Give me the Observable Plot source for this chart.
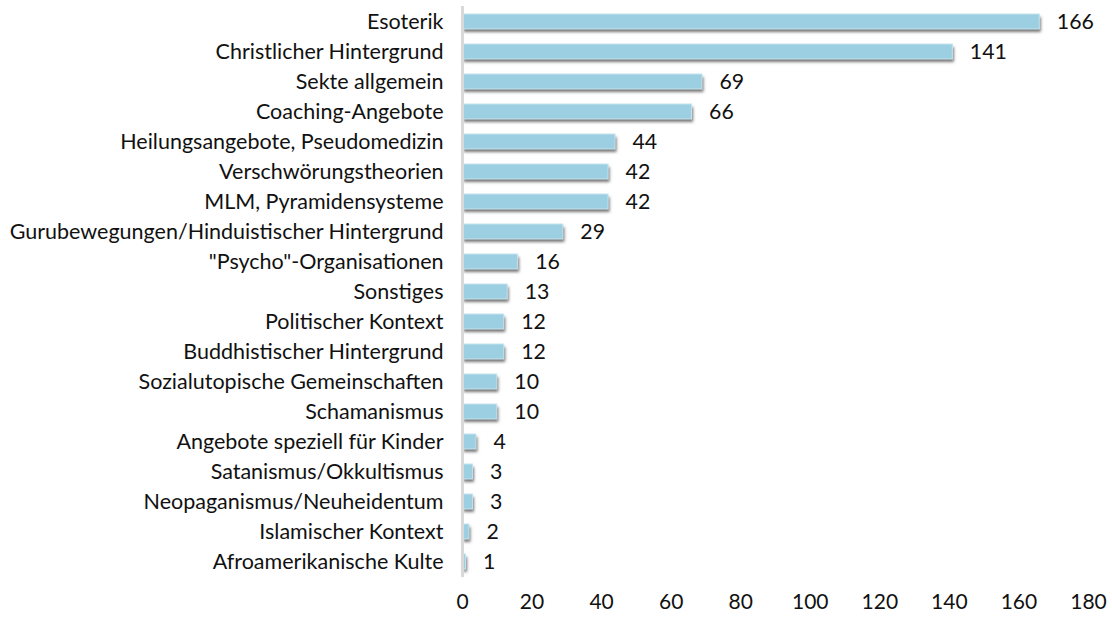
<!DOCTYPE html>
<html><head><meta charset="utf-8">
<script src="https://cdn.jsdelivr.net/npm/d3@7"></script>
<script src="https://cdn.jsdelivr.net/npm/@observablehq/plot@0.6"></script>
<style>
body{margin:0;background:#fff;font-family:Lato,sans-serif;}
</style></head><body><div id="chart"></div>
<script>
const categories = ["Esoterik","Christlicher Hintergrund","Sekte allgemein","Coaching-Angebote","Heilungsangebote, Pseudomedizin","Verschwörungstheorien","MLM, Pyramidensysteme","Gurubewegungen/Hinduistischer Hintergrund","\"Psycho\"-Organisationen","Sonstiges","Politischer Kontext","Buddhistischer Hintergrund","Sozialutopische Gemeinschaften","Schamanismus","Angebote speziell für Kinder","Satanismus/Okkultismus","Neopaganismus/Neuheidentum","Islamischer Kontext","Afroamerikanische Kulte"];
const values = [166,141,69,66,44,42,42,29,16,13,12,12,10,10,4,3,3,2,1];
const xTicks = [0,20,40,60,80,100,120,140,160,180];
const data = categories.map((c,i)=>({cat:c, v:values[i]}));

const chart = Plot.plot({
  width:1112, height:617,
  marginLeft:462, marginRight:24, marginTop:6, marginBottom:40,
  style:{fontFamily:"Lato, sans-serif", fontSize:"21px", color:"#111", background:"#fff"},
  x:{domain:[0,180], label:null},
  y:{domain:categories, label:null, paddingInner:0.5, paddingOuter:0.2},
  marks:[
    Plot.axisX({ticks:xTicks, tickSize:0, tickPadding:17, fontSize:21, label:null, fill:"#111"}),
    Plot.axisY({tickSize:0, tickPadding:19, fontSize:21.5, label:null, fill:"#111"}),
    Plot.barX(data,{x:"v", y:"cat", fill:"#555", dx:1.5, dy:3, fillOpacity:0.8}),
    Plot.barX(data,{x:"v", y:"cat", fill:"#9dcfe2", stroke:"#c4e3ee", strokeWidth:1}),
    Plot.ruleX([0],{stroke:"#d9d9d9", strokeWidth:3}),
    Plot.text(data,{x:"v", y:"cat", text:d=>String(d.v), textAnchor:"start", dx:17, fontSize:21.3, fill:"#111"})
  ]
});
document.getElementById("chart").appendChild(chart);
// soft shadow
const svg = d3.select(chart);
svg.insert("defs",":first-child").html('<filter id="sh" x="-5%" y="-50%" width="110%" height="200%"><feGaussianBlur stdDeviation="1.5"/></filter>');
const groups = chart.querySelectorAll('g[aria-label="bar"]');
if (groups.length) groups[0].setAttribute("filter","url(#sh)");
</script></body></html>
